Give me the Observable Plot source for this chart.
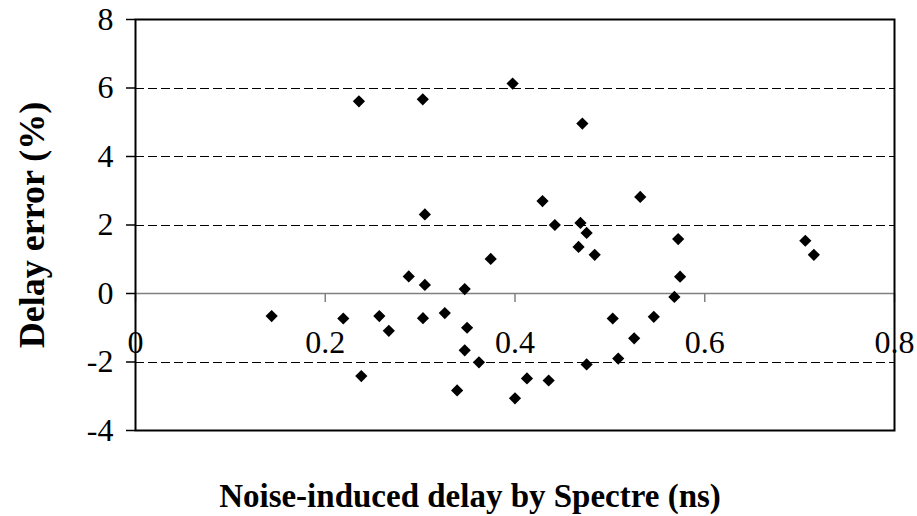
<!DOCTYPE html>
<html><head><meta charset="utf-8">
<script src="https://cdn.jsdelivr.net/npm/d3@7"></script>
<script src="https://cdn.jsdelivr.net/npm/@observablehq/plot@0.6"></script>
<style>body{margin:0;background:#fff}</style>
</head><body><div id="chart"></div>
<script>
const delayNs = [0.1435, 0.219, 0.2355, 0.238, 0.257, 0.267, 0.288, 0.3028, 0.303, 0.305,
  0.305, 0.326, 0.339, 0.347, 0.3495, 0.347, 0.362, 0.3744, 0.3975, 0.400,
  0.4126, 0.429, 0.4355, 0.442, 0.467, 0.469, 0.471, 0.4755, 0.4755, 0.484,
  0.503, 0.5088, 0.5256, 0.532, 0.5463, 0.568, 0.572, 0.574, 0.706, 0.715];
const errorPct = [-0.66, -0.73, 5.61, -2.41, -0.66, -1.09, 0.50, 5.67, -0.72, 0.25,
  2.31, -0.57, -2.83, 0.13, -1.00, -1.66, -2.01, 1.01, 6.13, -3.06,
  -2.48, 2.70, -2.54, 2.00, 1.36, 2.06, 4.96, 1.77, -2.07, 1.13,
  -0.73, -1.90, -1.31, 2.82, -0.68, -0.10, 1.59, 0.49, 1.54, 1.13];
const xTicks = [0, 0.2, 0.4, 0.6, 0.8];
const yTicks = [-4, -2, 0, 2, 4, 6, 8];
const gridLines = [-2, 2, 4, 6];
const xTitle = "Noise-induced delay by Spectre (ns)";
const yTitle = "Delay error (%)";

const points = delayNs.map((x, i) => ({x, y: errorPct[i]}));

const chart = Plot.plot({
  width: 917, height: 516,
  marginLeft: 135, marginRight: 23, marginTop: 19, marginBottom: 86,
  style: {fontFamily: "'Liberation Serif', 'Times New Roman', serif", background: "#fff", color: "#000", overflow: "visible"},
  x: {domain: [0, 0.8], axis: null},
  y: {domain: [-4, 8]},
  marks: [
    Plot.ruleY(gridLines, {stroke: "#000", strokeWidth: 1, strokeDasharray: "9,4", shapeRendering: "crispEdges"}),
    Plot.ruleY([0], {stroke: "#808080", strokeWidth: 1.5}),
    Plot.ruleX(xTicks, {x: d => d, y1: 0, y2: 0, insetBottom: -9, stroke: "#808080", strokeWidth: 1.5}),
    Plot.axisY({ticks: yTicks, tickSize: 9, tickPadding: 13, tickFormat: d => String(d), fontSize: 32, label: null, stroke: "#000", strokeWidth: 1.5}),
    Plot.text(xTicks, {x: d => d, y: 0, text: d => String(d), dy: 49, fontSize: 32}),
    Plot.dot(points, {x: "x", y: "y", symbol: "diamond2", r: 5.5, fill: "#000", stroke: "none"}),
    Plot.frame({stroke: "#000", strokeWidth: 2}),
    Plot.text([xTitle], {frameAnchor: "bottom", text: d => d, textAnchor: "middle", lineAnchor: "middle", dx: -45, dy: 66, fontSize: 33, fontWeight: "bold"}),
    Plot.text([yTitle], {frameAnchor: "left", text: d => d, rotate: -90, textAnchor: "middle", lineAnchor: "middle", dx: -103.5, fontSize: 36, fontWeight: "bold"})
  ]
});
document.getElementById("chart").appendChild(chart);
</script>
</body></html>
